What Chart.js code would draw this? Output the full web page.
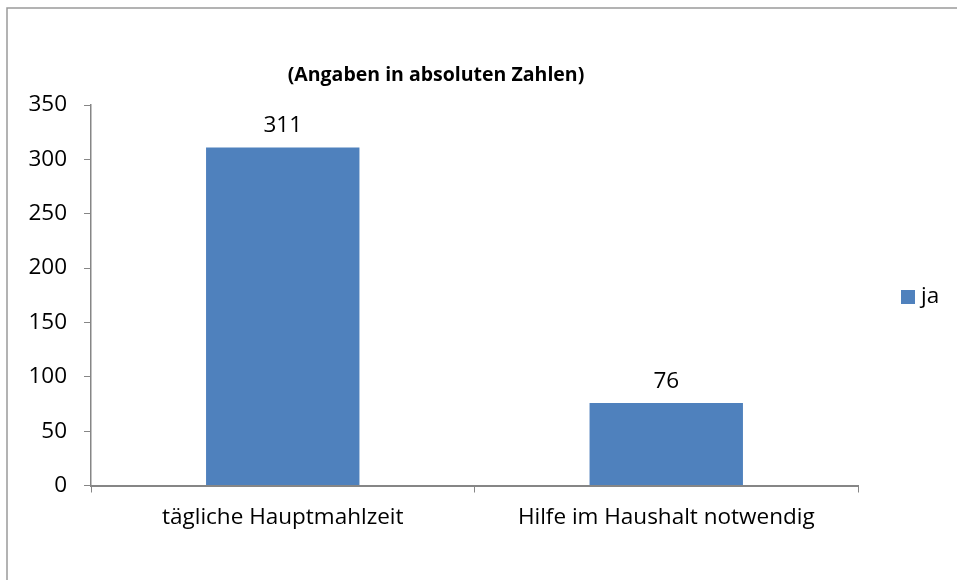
<!DOCTYPE html>
<html>
<head>
<meta charset="utf-8">
<script src="https://cdn.jsdelivr.net/npm/chart.js@4/dist/chart.umd.min.js"></script>
<style>
html,body{margin:0;padding:0;background:#fff;}
#wrap{width:957px;height:580px;position:relative;}
</style>
</head>
<body>
<div id="wrap"><canvas id="c" width="957" height="580"></canvas></div>
<script>
const categories = ["tägliche Hauptmahlzeit", "Hilfe im Haushalt notwendig"];
const seriesName = "ja";
const jaValues = [311, 76];
const titleText = "(Angaben in absoluten Zahlen)";
const yMin = 0, yMax = 350, yStep = 50;

const FONT = "'Open Sans', sans-serif";
const AXIS_COLOR = "#868686";
const BAR_COLOR = "#4f81bd";

const decor = {
  id: 'decor',
  beforeDraw(chart) {
    const ctx = chart.ctx;
    ctx.save();
    ctx.fillStyle = '#fff';
    ctx.fillRect(0, 0, chart.width, chart.height);
    ctx.strokeStyle = '#9a9a9a';
    ctx.lineWidth = 1.5;
    ctx.beginPath();
    ctx.moveTo(7, 600);
    ctx.lineTo(7, 8);
    ctx.lineTo(970, 8);
    ctx.stroke();
    ctx.restore();
  },
  afterDraw(chart) {
    const ctx = chart.ctx;
    ctx.save();
    ctx.fillStyle = '#000';
    ctx.font = "bold 19.5px " + FONT;
    ctx.textAlign = 'center';
    ctx.textBaseline = 'middle';
    ctx.fillText(titleText, 436, 75);
    ctx.font = "22.5px " + FONT;
    ctx.textBaseline = 'alphabetic';
    const meta = chart.getDatasetMeta(0);
    meta.data.forEach((bar, i) => {
      ctx.fillText(String(chart.data.datasets[0].data[i]), bar.x, bar.y - 15);
    });
    ctx.fillStyle = BAR_COLOR;
    ctx.fillRect(901, 290, 14, 14);
    ctx.fillStyle = '#000';
    ctx.textAlign = 'left';
    ctx.textBaseline = 'middle';
    ctx.font = "22.5px " + FONT;
    ctx.fillText(chart.data.datasets[0].label, 921, 297);
    ctx.restore();
  }
};

new Chart(document.getElementById('c'), {
  type: 'bar',
  data: {
    labels: categories,
    datasets: [{
      label: seriesName,
      data: jaValues,
      backgroundColor: BAR_COLOR,
      borderWidth: 0,
      barPercentage: 0.4,
      categoryPercentage: 1.0
    }]
  },
  options: {
    responsive: false,
    animation: false,
    events: [],
    layout: { padding: { top: 105, right: 99, left: 0, bottom: 0 } },
    plugins: { legend: { display: false }, title: { display: false }, tooltip: { enabled: false } },
    scales: {
      x: {
        offset: true,
        grid: { display: true, drawOnChartArea: false, offset: true, color: AXIS_COLOR, tickLength: 7, lineWidth: 1 },
        border: { display: true, color: AXIS_COLOR, width: 2 },
        ticks: { color: '#000', font: { family: FONT, size: 22.5 }, padding: 12, maxRotation: 0 },
        afterFit(scale) { scale.height = 94.5; }
      },
      y: {
        min: yMin, max: yMax,
        grid: { display: true, drawOnChartArea: false, color: AXIS_COLOR, tickLength: 7, lineWidth: 1 },
        border: { display: true, color: AXIS_COLOR, width: 1.5 },
        ticks: { stepSize: yStep, color: '#000', font: { family: FONT, size: 22.5 }, padding: 17 },
        afterFit(scale) { scale.width = 91; }
      }
    }
  },
  plugins: [decor]
});
</script>
</body>
</html>
